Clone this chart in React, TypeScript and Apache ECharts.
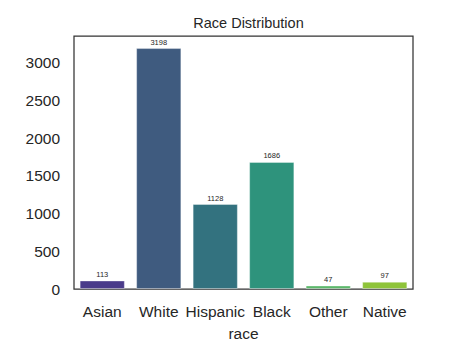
import React, { useEffect, useRef } from "react";
import * as echarts from "echarts";

const categories = ["Asian", "White", "Hispanic", "Black", "Other", "Native"];
const counts = [113, 3198, 1128, 1686, 47, 97];
const barColors = ["#4a3b8a", "#3f5b7f", "#33727f", "#2e937c", "#5cb86b", "#8fc43a"];

export default function App() {
  const ref = useRef<HTMLDivElement>(null);
  useEffect(() => {
    if (!ref.current) return;
    const chart = echarts.init(ref.current, undefined, { renderer: "svg" });
    const font = "Liberation Sans, Arial, sans-serif";
    chart.setOption({
      animation: false,
      backgroundColor: "#ffffff",
      textStyle: { fontFamily: font },
      title: {
        text: "Race Distribution",
        left: 243.5,
        textAlign: "center",
        top: 10,
        textStyle: { fontSize: 14.5, fontWeight: "normal", color: "#262626", fontFamily: font },
      },
      grid: {
        left: 74,
        right: 62,
        top: 36,
        bottom: 65,
        show: true,
        borderColor: "#333333",
        borderWidth: 1.25,
        backgroundColor: "transparent",
      },
      xAxis: {
        type: "category",
        data: categories,
        axisLine: { show: false },
        axisTick: { show: false },
        axisLabel: { color: "#262626", fontSize: 15.5, margin: 14, fontFamily: font, interval: 0 },
        name: "race",
        nameLocation: "middle",
        nameGap: 36,
        nameTextStyle: { color: "#262626", fontSize: 15.5, fontFamily: font },
      },
      yAxis: {
        type: "value",
        min: 0,
        max: 3358,
        interval: 500,
        axisLine: { show: false },
        axisTick: { show: false },
        splitLine: { show: false },
        axisLabel: {
          color: "#262626",
          fontSize: 15.5,
          margin: 14,
          fontFamily: font,
          showMaxLabel: false,
          formatter: (v: number) => String(v),
        },
      },
      series: [
        {
          type: "bar",
          data: counts.map((v, i) => ({ value: v, itemStyle: { color: barColors[i] } })),
          barCategoryGap: "20%",
          itemStyle: { borderColor: "rgba(255,255,255,0.35)", borderWidth: 1 },
          label: {
            show: true,
            position: "top",
            distance: 2,
            fontSize: 7.5,
            color: "#262626",
            fontFamily: font,
          },
        },
      ],
    });
    return () => chart.dispose();
  }, []);
  return (
    <div
      ref={ref}
      style={{ position: "fixed", left: 0, top: 0, width: 475, height: 354, background: "#fff" }}
    />
  );
}
